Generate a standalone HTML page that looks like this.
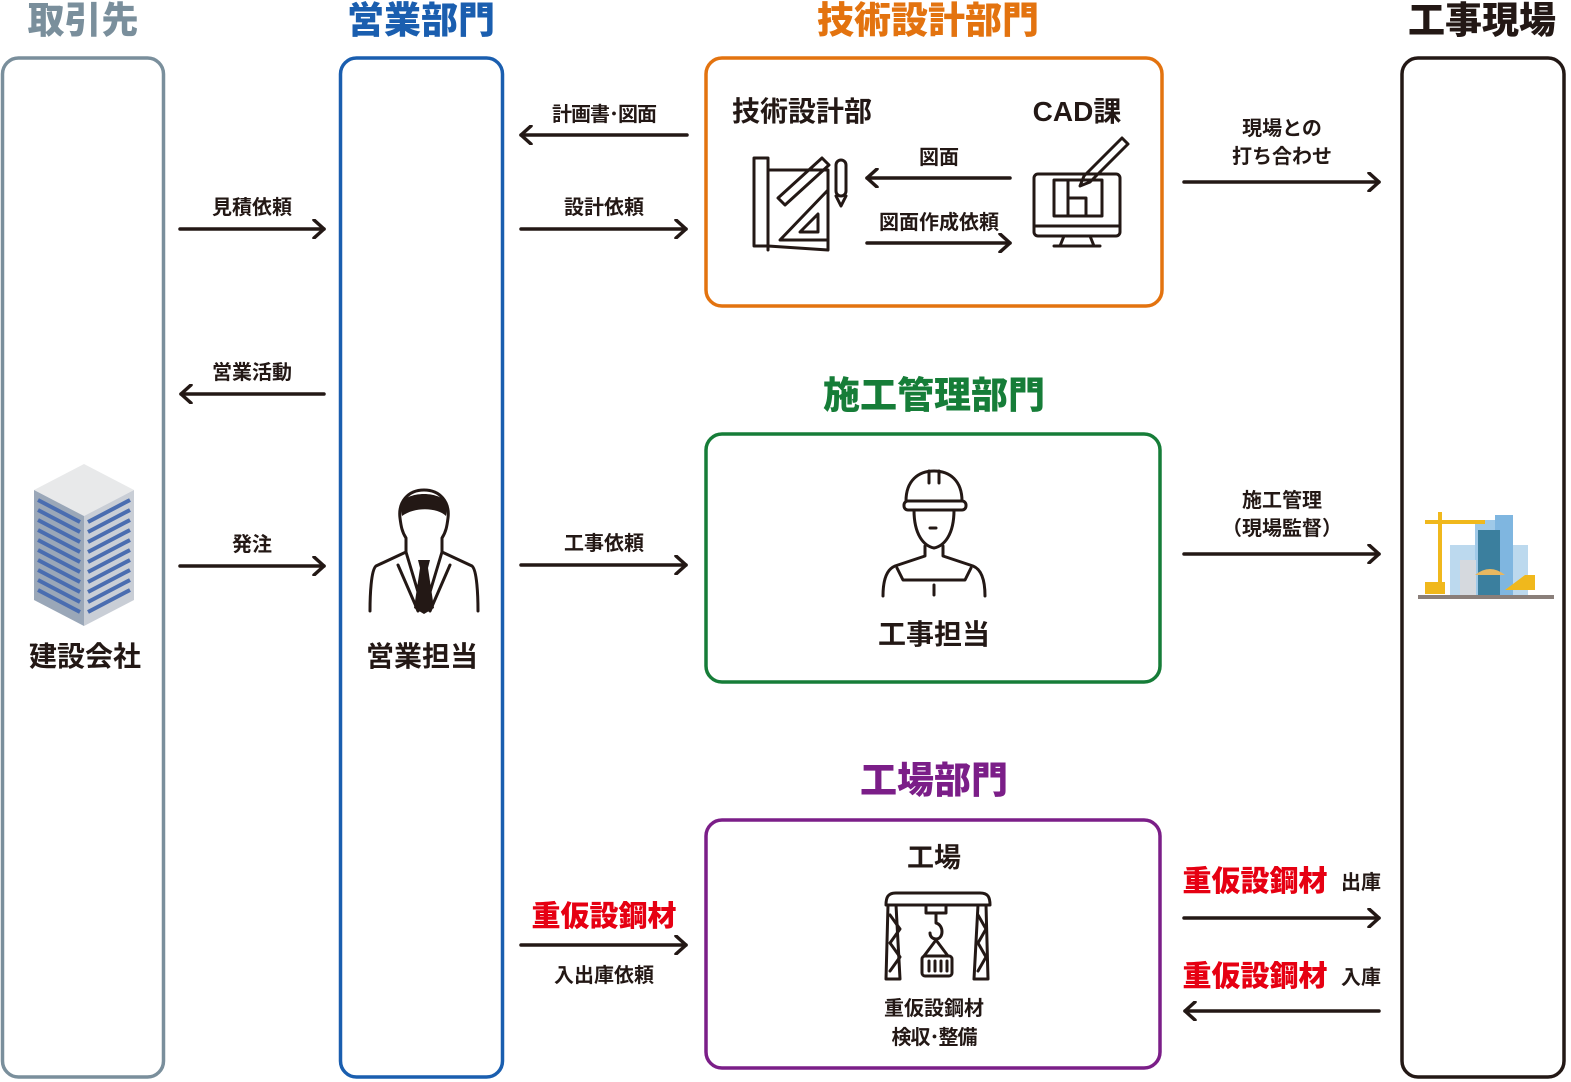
<!DOCTYPE html>
<html><head><meta charset="utf-8"><style>
html,body{margin:0;padding:0;background:#fff;width:1571px;height:1082px;overflow:hidden}
svg{display:block}
text{font-family:"Liberation Sans","Noto Sans CJK JP",sans-serif;font-weight:700;fill:#231815;text-anchor:middle}
.t{font-size:37px;font-weight:900}
.s{font-size:20px}
.m{font-size:28px}
.r{fill:#e60012;font-size:29px;font-weight:900}
.ln{stroke:#231815;stroke-width:3.5;fill:none;stroke-linecap:round;stroke-linejoin:round}
.ic{stroke:#231815;stroke-width:3;fill:none;stroke-linecap:round;stroke-linejoin:round}
</style></head><body>
<svg width="1571" height="1082" viewBox="0 0 1571 1082" xmlns="http://www.w3.org/2000/svg">
<defs>
<marker id="a" markerWidth="14" markerHeight="20" refX="12" refY="10" orient="auto" markerUnits="userSpaceOnUse">
<path d="M2,1 L12,10 L2,19" fill="none" stroke="#231815" stroke-width="3.5" stroke-linecap="round" stroke-linejoin="round"/></marker>
</defs>
<!-- titles -->
<text class="t" x="83" y="33" style="fill:#7a8f9c">取引先</text>
<text class="t" x="421" y="33" style="fill:#1a5eaf">営業部門</text>
<text class="t" x="928" y="33" style="fill:#e3730f">技術設計部門</text>
<text class="t" x="1482" y="33">工事現場</text>
<text class="t" x="934" y="408" style="fill:#167d38">施工管理部門</text>
<text class="t" x="934" y="793" style="fill:#7b1e88">工場部門</text>
<!-- boxes -->
<rect x="2.5" y="58" width="161" height="1019" rx="16" fill="none" stroke="#7a8f9c" stroke-width="3.5"/>
<rect x="340.5" y="58" width="162" height="1019" rx="16" fill="none" stroke="#1a5eaf" stroke-width="3.5"/>
<rect x="1402" y="58" width="162" height="1019" rx="16" fill="none" stroke="#231815" stroke-width="3.5"/>
<rect x="706" y="58" width="456" height="248" rx="16" fill="none" stroke="#e3730f" stroke-width="3.5"/>
<rect x="706" y="434" width="454" height="248" rx="16" fill="none" stroke="#167d38" stroke-width="3.5"/>
<rect x="706" y="820" width="454" height="248" rx="16" fill="none" stroke="#7b1e88" stroke-width="3.5"/>
<!-- arrows left -->
<text class="s" x="252" y="214">見積依頼</text><line class="ln" x1="180" y1="229" x2="324" y2="229" marker-end="url(#a)"/>
<text class="s" x="252" y="379">営業活動</text><line class="ln" x1="324" y1="394" x2="181" y2="394" marker-end="url(#a)"/>
<text class="s" x="252" y="551">発注</text><line class="ln" x1="180" y1="566" x2="324" y2="566" marker-end="url(#a)"/>
<text class="s" x="604" y="121" style="letter-spacing:-1px">計画書･図面</text><line class="ln" x1="687" y1="135" x2="521" y2="135" marker-end="url(#a)"/>
<text class="s" x="604" y="214">設計依頼</text><line class="ln" x1="521" y1="229" x2="686" y2="229" marker-end="url(#a)"/>
<text class="s" x="604" y="550">工事依頼</text><line class="ln" x1="521" y1="565" x2="686" y2="565" marker-end="url(#a)"/>
<text class="r" x="604" y="926">重仮設鋼材</text><line class="ln" x1="521" y1="945" x2="686" y2="945" marker-end="url(#a)"/>
<text class="s" x="604" y="982">入出庫依頼</text>
<!-- inner tech -->
<text x="802" y="121" style="font-size:28px">技術設計部</text>
<text x="1077" y="121" style="font-size:28px">CAD課</text>
<text class="s" x="939" y="164">図面</text><line class="ln" x1="1010" y1="178" x2="867" y2="178" marker-end="url(#a)"/>
<text class="s" x="939" y="229">図面作成依頼</text><line class="ln" x1="867" y1="243" x2="1010" y2="243" marker-end="url(#a)"/>
<!-- right arrows -->
<text class="s" x="1282" y="135">現場との</text><text class="s" x="1282" y="163">打ち合わせ</text>
<line class="ln" x1="1184" y1="182" x2="1379" y2="182" marker-end="url(#a)"/>
<text class="s" x="1282" y="507">施工管理</text><text class="s" x="1282" y="535">（現場監督）</text>
<line class="ln" x1="1184" y1="554" x2="1379" y2="554" marker-end="url(#a)"/>
<text class="r" x="1255" y="891">重仮設鋼材</text><text class="s" x="1361" y="889">出庫</text>
<line class="ln" x1="1184" y1="918" x2="1379" y2="918" marker-end="url(#a)"/>
<text class="r" x="1255" y="986">重仮設鋼材</text><text class="s" x="1361" y="984">入庫</text>
<line class="ln" x1="1379" y1="1011" x2="1185" y2="1011" marker-end="url(#a)"/>
<!-- labels -->
<text class="m" x="85" y="666">建設会社</text>
<text class="m" x="422" y="666">営業担当</text>
<text class="m" x="934" y="644">工事担当</text>
<text x="934" y="867" style="font-size:27px">工場</text>
<text class="s" x="934" y="1015">重仮設鋼材</text>
<text class="s" x="934" y="1044" style="letter-spacing:-1px">検収･整備</text>
<!-- building -->
<polygon points="34,490 84,464 134,490 84,516" fill="#e8e9ea"/>
<polygon points="34,490 84,516 84,626 34,600" fill="#9aa7b8"/>
<polygon points="84,516 134,490 134,600 84,626" fill="#c9ced6"/>
<g stroke="#4a6db0" stroke-width="4">
<path d="M38,500 L80,522 M38,510 L80,532 M38,520 L80,542 M38,530 L80,552 M38,540 L80,562 M38,550 L80,572 M38,560 L80,582 M38,570 L80,592 M38,580 L80,602 M38,590 L80,612"/>
<path d="M88,522 L130,500 M88,532 L130,510 M88,542 L130,520 M88,552 L130,530 M88,562 L130,540 M88,572 L130,550 M88,582 L130,560 M88,592 L130,570 M88,602 L130,580 M88,612 L130,590"/>
</g>
<!-- person -->
<path d="M424,490 c-16,0 -26,12 -24,28 c1,8 2,14 6,20 l0,14 l-30,14 c-5,4 -6,30 -6,45 M424,490 c16,0 26,12 24,28 c-1,8 -2,14 -6,20 l0,14 l30,14 c5,4 6,30 6,45" class="ic"/>
<path d="M400,506 c4,-16 44,-16 48,0 l-2,10 c-8,-8 -30,-10 -44,0z" fill="#231815"/>
<path d="M406,552 l18,60 l18,-60 M398,565 l20,46 M450,565 l-20,46" class="ic"/>
<path d="M418,560 l12,0 l-2,8 l6,40 l-10,6 l-10,-6 l6,-40z" fill="#231815"/>
<!-- worker -->
<g class="ic">
<path d="M906,501 c0,-20 12,-30 28,-30 c16,0 28,10 28,30"/>
<rect x="904" y="501" width="62" height="9" rx="4"/>
<path d="M929,471 l0,12 M939,471 l0,12"/>
<path d="M914,510 c0,25 10,36 20,38 c10,-2 20,-13 20,-38"/>
<path d="M925,546 l0,10 l-30,10 c-10,4 -12,18 -12,30 M943,546 l0,10 l30,10 c10,4 12,18 12,30"/>
<path d="M897,568 l6,12 l62,0 l6,-12 M934,585 l0,10"/>
<path d="M930,528 l6,0"/>
</g>
<!-- blueprint -->
<g class="ic">
<path d="M768,158 l-14,0 l0,88 l14,0 l60,4 l0,-80 l-60,0 z M768,158 l0,92"/>
<path d="M778,198 l44,-40 l7,7 l-44,40z"/>
<path d="M780,240 l48,-50 l0,50z M800,232 l18,-18 l0,18z"/>
<rect x="836" y="160" width="10" height="36" rx="5"/><path d="M836,196 l5,10 l5,-10"/>
</g>
<!-- computer -->
<g class="ic">
<rect x="1034" y="174" width="86" height="62" rx="4"/><path d="M1034,226 l86,0 M1064,236 l-4,10 M1090,236 l4,10 M1054,246 l46,0"/>
<path d="M1054,180 l48,0 l0,36 l-48,0 z M1068,180 l0,36 M1068,198 l18,0 l0,18"/>
<path d="M1084,176 l38,-38 l6,6 l-38,38 l-10,4 z"/>
</g>
<!-- crane -->
<g class="ic">
<path d="M886,905 c0,-8 2,-12 10,-12 l84,0 c8,0 10,4 10,12 z"/>
<path d="M888,905 l-2,74 l14,0 l-4,-74 M978,905 l-4,74 l14,0 l-2,-74"/>
<path d="M890,915 l10,14 l-10,14 l10,14 l-10,14 M978,915 l8,14 l-8,14 l8,14 l-8,14"/>
<rect x="926" y="905" width="20" height="8"/>
<path d="M936,913 l0,10 c8,2 8,16 0,16 c-4,0 -6,-3 -6,-6 M936,940 l-12,16 M936,940 l12,16"/>
<rect x="922" y="956" width="30" height="20" rx="3"/><path d="M929,961 l0,10 M935,961 l0,10 M941,961 l0,10 M947,961 l0,10"/>
</g>
<!-- construction -->
<g>
<rect x="1475" y="520" width="20" height="75" fill="#9fc9e8"/>
<rect x="1495" y="515" width="18" height="80" fill="#7fb6e0"/>
<rect x="1450" y="545" width="25" height="50" fill="#bcd9ee"/>
<rect x="1513" y="545" width="15" height="50" fill="#bcd9ee"/>
<rect x="1478" y="530" width="22" height="65" fill="#3b7f9e"/>
<rect x="1460" y="560" width="16" height="35" fill="#d5d9de"/>
<path d="M1440,512 l0,80 M1425,522 l60,0" stroke="#f0b81c" stroke-width="4"/>
<path d="M1475,575 q15,-12 30,0 z" fill="#e8b860"/>
<rect x="1425" y="582" width="20" height="12" fill="#f0b81c"/>
<path d="M1505,590 l20,-15 l10,0 l0,15z" fill="#f0b81c"/>
<rect x="1418" y="595" width="136" height="4" fill="#8a7f7a"/>
</g>
</svg>
</body></html>
